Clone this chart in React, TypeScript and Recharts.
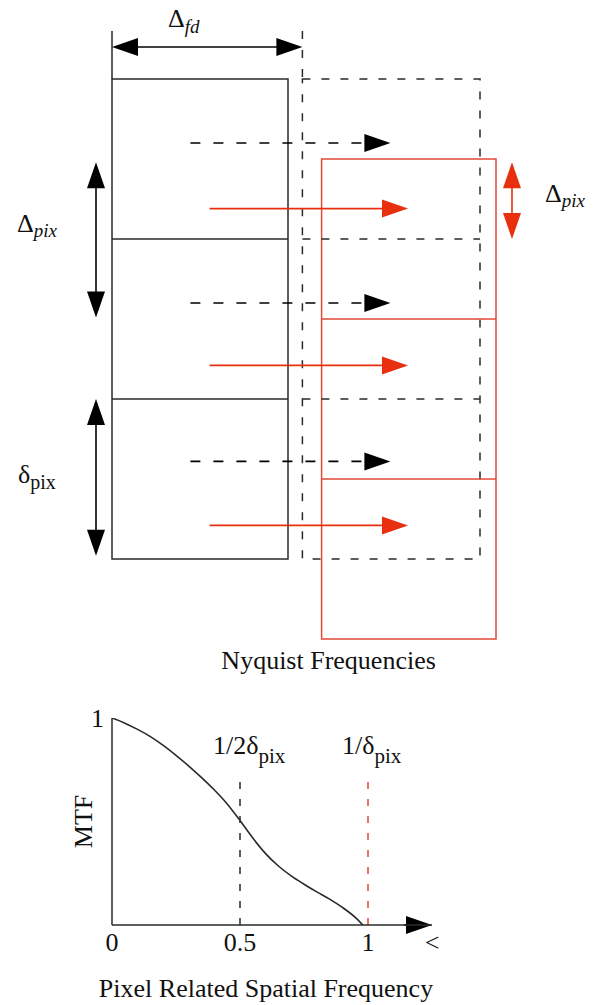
import {
  ComposedChart,
  Line,
  LineChart,
  ReferenceArea,
  ReferenceLine,
  XAxis,
  YAxis,
} from 'recharts';

const FONT = '"Liberation Serif", "Times New Roman", serif';
const INK = '#2a2a2a';
const RED = '#e04a37';
const RED_HEAD = '#e8300f';

// top diagram, in units of one pixel pitch (x to the right, y downwards)
const ROW_EDGES = [0, 1, 2, 3];
const RED_ROW_EDGES = [0.5, 1.5, 2.5, 3.5];
const SOLID_X = [0, 1.1];
const DASHED_X = [1.19, 2.3];
const RED_X = [1.31, 2.4];
const LEAD_TOP = -0.3;
const FD_ARROW_Y = -0.2;
const BLACK_ARROW_Y = [0.4, 1.4, 2.39];
const BLACK_ARROW_X = [0.49, 1.74];
const RED_ARROW_Y = [0.81, 1.79, 2.79];
const RED_ARROW_X = [0.61, 1.85];
const PITCH_ARROW_X = -0.1;
const BIG_PITCH = [0.52, 1.49];
const SMALL_PITCH = [2.0, 2.98];
const RED_PITCH_X = 2.5;
const RED_PITCH = [0.52, 1.0];

// bottom MTF plot
const freq = [0, 0.05, 0.1, 0.15, 0.2, 0.25, 0.3, 0.35, 0.4, 0.45, 0.5, 0.55, 0.6, 0.65, 0.7, 0.75, 0.8, 0.85, 0.9, 0.95, 0.98];
const mtf = [1.0, 0.975, 0.945, 0.91, 0.868, 0.82, 0.768, 0.712, 0.652, 0.585, 0.505, 0.42, 0.345, 0.285, 0.237, 0.197, 0.16, 0.125, 0.085, 0.037, 0];
const xTicks = [0, 0.5, 1, 1.25];
const xTickLabels = ['0', '0.5', '1', '<'];
const yTicks = [1];
const MARK_TOP = 0.72;
const AXIS_ARROW = [1.14, 1.25];

const mtfData = freq.map((f, i) => ({ f, m: mtf[i] }));

const HEAD_L = 26;
const HEAD_W = 18;
const textStyle = { fontFamily: FONT };

// line with filled triangle head(s), drawn between the segment's scaled end points
function arrow(color: string, both: boolean, dash?: string) {
  return (p: any) => {
    const { x1, y1, x2, y2 } = p;
    const len = Math.hypot(x2 - x1, y2 - y1) || 1;
    const ux = (x2 - x1) / len;
    const uy = (y2 - y1) / len;
    const tri = (tx: number, ty: number, dx: number, dy: number) => {
      const bx = tx - dx * HEAD_L;
      const by = ty - dy * HEAD_L;
      const nx = (-dy * HEAD_W) / 2;
      const ny = (dx * HEAD_W) / 2;
      return `${tx},${ty} ${bx + nx},${by + ny} ${bx - nx},${by - ny}`;
    };
    const sx = both ? x1 + ux * HEAD_L * 0.6 : x1;
    const sy = both ? y1 + uy * HEAD_L * 0.6 : y1;
    return (
      <g>
        <line
          x1={sx}
          y1={sy}
          x2={x2 - ux * HEAD_L * 0.6}
          y2={y2 - uy * HEAD_L * 0.6}
          stroke={color}
          strokeWidth={1.6}
          strokeDasharray={dash}
        />
        <polygon points={tri(x2, y2, ux, uy)} fill={color} />
        {both && <polygon points={tri(x1, y1, -ux, -uy)} fill={color} />}
      </g>
    );
  };
}

function subText(
  main: string,
  sub: string,
  dx: number,
  dy: number,
  size: number,
  subSize: number,
  italicSub: boolean,
  drop: number,
) {
  return (props: any) => {
    const vb = props.viewBox || { x: 0, y: 0 };
    return (
      <text
        x={vb.x + dx}
        y={vb.y + dy}
        fontFamily={FONT}
        style={textStyle}
        fontSize={size}
        fill="#111"
      >
        {main}
        <tspan
          fontSize={subSize}
          fontStyle={italicSub ? 'italic' : 'normal'}
          style={textStyle}
          dy={drop}
        >
          {sub}
        </tspan>
      </text>
    );
  };
}

function nyquistLabel(props: any) {
  const vb = props.viewBox;
  return (
    <text
      x={vb.x + 7}
      y={vb.y + vb.height + 30}
      fontFamily={FONT}
      style={textStyle}
      fontSize={26}
      fill="#111"
      textAnchor="middle"
    >
      Nyquist Frequencies
    </text>
  );
}

function column(xs: number[], edges: number[], color: string, dash?: string, key = '') {
  const inner = edges.slice(1, -1);
  return [
    <ReferenceArea
      key={`${key}-box`}
      x1={xs[0]}
      x2={xs[1]}
      y1={edges[0]}
      y2={edges[edges.length - 1]}
      fill="none"
      fillOpacity={0}
      stroke={color}
      strokeWidth={1.5}
      strokeDasharray={dash}
      label={key === 'red' ? nyquistLabel : undefined}
    />,
    ...inner.map((y) => (
      <ReferenceLine
        key={`${key}-div-${y}`}
        segment={[
          { x: xs[0], y },
          { x: xs[1], y },
        ]}
        stroke={color}
        strokeWidth={1.5}
        strokeDasharray={dash}
      />
    )),
  ];
}

function Diagram() {
  return (
    <ComposedChart
      width={600}
      height={680}
      margin={{ top: 15, right: 8, bottom: 1, left: 0 }}
      style={textStyle}
    >
      <XAxis type="number" dataKey="x" domain={[-0.7, 3]} allowDataOverflow hide />
      <YAxis type="number" dataKey="y" domain={[-0.4, 3.75]} allowDataOverflow reversed hide />

      {column(SOLID_X, ROW_EDGES, INK, undefined, 'solid')}
      <ReferenceLine
        segment={[
          { x: SOLID_X[0], y: LEAD_TOP },
          { x: SOLID_X[0], y: ROW_EDGES[0] },
        ]}
        stroke={INK}
        strokeWidth={1.5}
      />
      {column(DASHED_X, ROW_EDGES, INK, '8 11', 'dashed')}
      <ReferenceLine
        segment={[
          { x: DASHED_X[0], y: LEAD_TOP },
          { x: DASHED_X[0], y: ROW_EDGES[0] },
        ]}
        stroke={INK}
        strokeWidth={1.5}
        strokeDasharray="8 11"
      />
      {column(RED_X, RED_ROW_EDGES, RED, undefined, 'red')}

      <ReferenceLine
        segment={[
          { x: SOLID_X[0], y: FD_ARROW_Y },
          { x: DASHED_X[0], y: FD_ARROW_Y },
        ]}
        shape={arrow('#000', true)}
        label={subText('Δ', 'fd', 56, -20, 26, 19, true, 6)}
      />

      {BLACK_ARROW_Y.map((y) => (
        <ReferenceLine
          key={`ba-${y}`}
          segment={[
            { x: BLACK_ARROW_X[0], y },
            { x: BLACK_ARROW_X[1], y },
          ]}
          shape={arrow('#000', false, '10 13')}
        />
      ))}
      {RED_ARROW_Y.map((y) => (
        <ReferenceLine
          key={`ra-${y}`}
          segment={[
            { x: RED_ARROW_X[0], y },
            { x: RED_ARROW_X[1], y },
          ]}
          shape={arrow(RED_HEAD, false)}
        />
      ))}

      <ReferenceLine
        segment={[
          { x: PITCH_ARROW_X, y: BIG_PITCH[0] },
          { x: PITCH_ARROW_X, y: BIG_PITCH[1] },
        ]}
        shape={arrow('#000', true)}
        label={subText('Δ', 'pix', -79, 70, 26, 19, true, 5)}
      />
      <ReferenceLine
        segment={[
          { x: PITCH_ARROW_X, y: SMALL_PITCH[0] },
          { x: PITCH_ARROW_X, y: SMALL_PITCH[1] },
        ]}
        shape={arrow('#000', true)}
        label={subText('δ', 'pix', -78, 84, 26, 20, false, 6)}
      />
      <ReferenceLine
        segment={[
          { x: RED_PITCH_X, y: RED_PITCH[0] },
          { x: RED_PITCH_X, y: RED_PITCH[1] },
        ]}
        shape={arrow(RED_HEAD, true)}
        label={subText('Δ', 'pix', 33, 40, 26, 19, true, 5)}
      />
    </ComposedChart>
  );
}

function MtfPlot() {
  return (
    <LineChart
      width={600}
      height={325}
      data={mtfData}
      margin={{ top: 38, right: 168, bottom: 0, left: 40 }}
      style={textStyle}
    >
      <XAxis
        type="number"
        dataKey="f"
        domain={[0, 1.25]}
        allowDataOverflow
        ticks={xTicks}
        interval={0}
        tickFormatter={(v: number) => xTickLabels[xTicks.indexOf(v)]}
        tickLine={false}
        axisLine={{ stroke: INK, strokeWidth: 1.5 }}
        tick={{ fill: '#111', fontSize: 26, fontFamily: FONT }}
        height={80}
        label={(props: any) => {
          const vb = props.viewBox;
          return (
            <text
              x={vb.x + vb.width / 2 - 6}
              y={vb.y + 72}
              fontFamily={FONT}
              style={textStyle}
              fontSize={26}
              fill="#111"
              textAnchor="middle"
            >
              Pixel Related Spatial Frequency
            </text>
          );
        }}
      />
      <YAxis
        type="number"
        domain={[0, 1]}
        allowDataOverflow
        ticks={yTicks}
        width={72}
        tickLine={false}
        axisLine={{ stroke: INK, strokeWidth: 1.5 }}
        tick={{ fill: '#111', fontSize: 26, fontFamily: FONT }}
        label={(props: any) => {
          const vb = props.viewBox;
          const x = vb.x + 52;
          const y = vb.y + vb.height / 2;
          return (
            <text
              x={x}
              y={y}
              transform={`rotate(-90 ${x} ${y})`}
              fontFamily={FONT}
              style={textStyle}
              fontSize={26}
              fill="#111"
              textAnchor="middle"
            >
              MTF
            </text>
          );
        }}
      />
      <ReferenceLine
        segment={[
          { x: 0.5, y: 0 },
          { x: 0.5, y: MARK_TOP },
        ]}
        stroke={INK}
        strokeWidth={1.5}
        strokeDasharray="7 10"
        label={subText('1/2δ', 'pix', -27, -22, 26, 21, false, 9)}
      />
      <ReferenceLine
        segment={[
          { x: 1, y: 0 },
          { x: 1, y: MARK_TOP },
        ]}
        stroke={RED}
        strokeWidth={1.5}
        strokeDasharray="7 10"
        label={subText('1/δ', 'pix', -26, -22, 26, 21, false, 9)}
      />
      <ReferenceLine
        segment={[
          { x: AXIS_ARROW[0], y: 0 },
          { x: AXIS_ARROW[1], y: 0 },
        ]}
        shape={arrow('#000', false)}
      />
      <Line
        type="monotone"
        dataKey="m"
        stroke={INK}
        strokeWidth={1.6}
        dot={false}
        isAnimationActive={false}
      />
    </LineChart>
  );
}

export default function App() {
  return (
    <div
      style={{
        position: 'absolute',
        left: 0,
        top: 0,
        width: 600,
        height: 1005,
        background: '#fff',
        fontFamily: FONT,
      }}
    >
      <Diagram />
      <MtfPlot />
    </div>
  );
}
